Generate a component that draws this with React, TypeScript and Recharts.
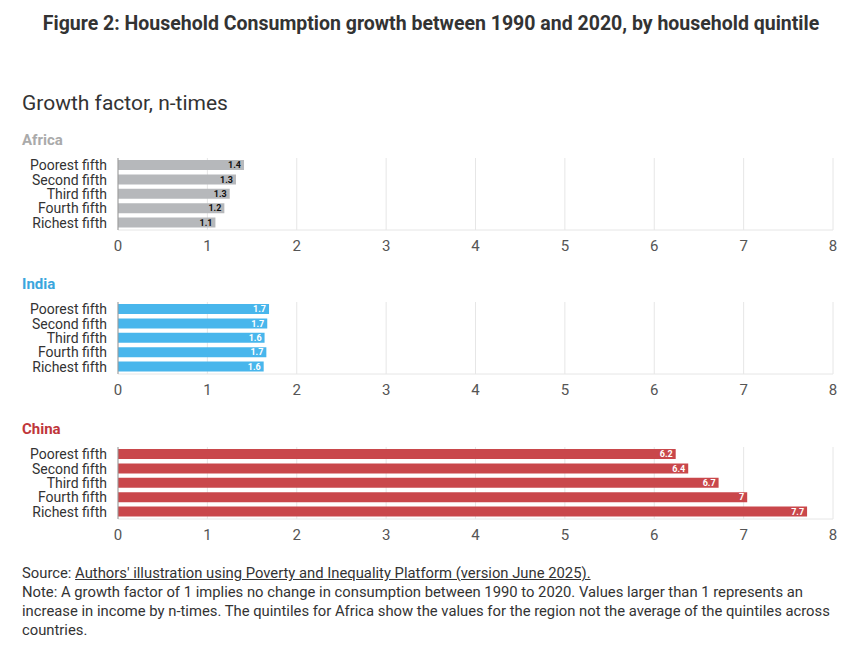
import React from "react";
import { BarChart, Bar, XAxis, YAxis, CartesianGrid, LabelList } from "recharts";

const quintiles = ["Poorest fifth", "Second fifth", "Third fifth", "Fourth fifth", "Richest fifth"];
const africaValues = [1.41, 1.32, 1.25, 1.19, 1.09];
const indiaValues = [1.69, 1.67, 1.64, 1.66, 1.63];
const chinaValues = [6.24, 6.38, 6.72, 7.04, 7.71];
const xTicks = [0, 1, 2, 3, 4, 5, 6, 7, 8];

const FONT = "Roboto, 'DejaVu Sans', sans-serif";

const fmt = (v: number) => String(Math.round(v * 10) / 10);

interface PanelProps {
  title: string;
  titleColor: string;
  values: number[];
  color: string;
  labelColor: string;
  top: number;
}

const Panel: React.FC<PanelProps> = ({ title, titleColor, values, color, labelColor, top }) => {
  const data = quintiles.map((q, i) => ({ name: q, value: values[i] }));
  return (
    <div style={{ position: "absolute", left: 0, top }}>
      <div
        style={{
          position: "absolute",
          left: 22,
          top: 0,
          fontSize: 15,
          fontWeight: 700,
          color: titleColor,
          fontFamily: FONT,
          whiteSpace: "nowrap",
        }}
      >
        {title}
      </div>
      <div style={{ position: "absolute", left: 0, top: 27 }}>
        <BarChart
          width={854}
          height={110}
          data={data}
          layout="vertical"
          margin={{ top: 0, right: 21, left: 8, bottom: 0 }}
          barCategoryGap={2}
        >
          <CartesianGrid horizontal={false} stroke="#e6e6e6" />
          <XAxis
            type="number"
            domain={[0, 8]}
            ticks={xTicks}
            axisLine={{ stroke: "#e6e6e6" }}
            tickLine={false}
            tick={{ fontSize: 15, fill: "#555", fontFamily: FONT }}
            tickMargin={4}
            height={38}
          />
          <YAxis
            type="category"
            dataKey="name"
            width={110}
            axisLine={{ stroke: "#999" }}
            tickLine={false}
            tick={{ fontSize: 14, fill: "#333", fontFamily: FONT }}
            tickMargin={5}
            interval={0}
          />
          <Bar dataKey="value" fill={color} isAnimationActive={false}>
            <LabelList
              dataKey="value"
              position="insideRight"
              offset={3}
              formatter={(v: any) => fmt(Number(v))}
              style={{ fontSize: 9, fontWeight: 700, fill: labelColor, fontFamily: FONT }}
            />
          </Bar>
        </BarChart>
      </div>
    </div>
  );
};

export default function App() {
  return (
    <div
      style={{
        position: "relative",
        width: 854,
        height: 646,
        margin: -8,
        background: "#fff",
        fontFamily: FONT,
        overflow: "hidden",
      }}
    >
      <div
        style={{
          position: "absolute",
          left: 0,
          width: 862,
          top: 12,
          textAlign: "center",
          fontSize: 19.5,
          fontWeight: 700,
          color: "#333",
          whiteSpace: "nowrap",
        }}
      >
        Figure 2: Household Consumption growth between 1990 and 2020, by household quintile
      </div>
      <div style={{ position: "absolute", left: 22, top: 91, fontSize: 21, color: "#333" }}>
        Growth factor, n-times
      </div>
      <Panel title="Africa" titleColor="#aaaaaa" values={africaValues} color="#b6b8bb" labelColor="#111" top={131} />
      <Panel title="India" titleColor="#3aa6dd" values={indiaValues} color="#48b6ec" labelColor="#fff" top={275} />
      <Panel title="China" titleColor="#c0363b" values={chinaValues} color="#c9474b" labelColor="#fff" top={420} />
      <div
        style={{
          position: "absolute",
          left: 22,
          top: 564,
          width: 830,
          fontSize: 14.8,
          lineHeight: "19px",
          color: "#333",
          whiteSpace: "nowrap",
        }}
      >
        Source: <span style={{ textDecoration: "underline" }}>Authors' illustration using Poverty and Inequality Platform (version June 2025).</span>
        <br />
        Note: A growth factor of 1 implies no change in consumption between 1990 to 2020. Values larger than 1 represents an
        <br />
        increase in income by n-times. The quintiles for Africa show the values for the region not the average of the quintiles across
        <br />
        countries.
      </div>
    </div>
  );
}
